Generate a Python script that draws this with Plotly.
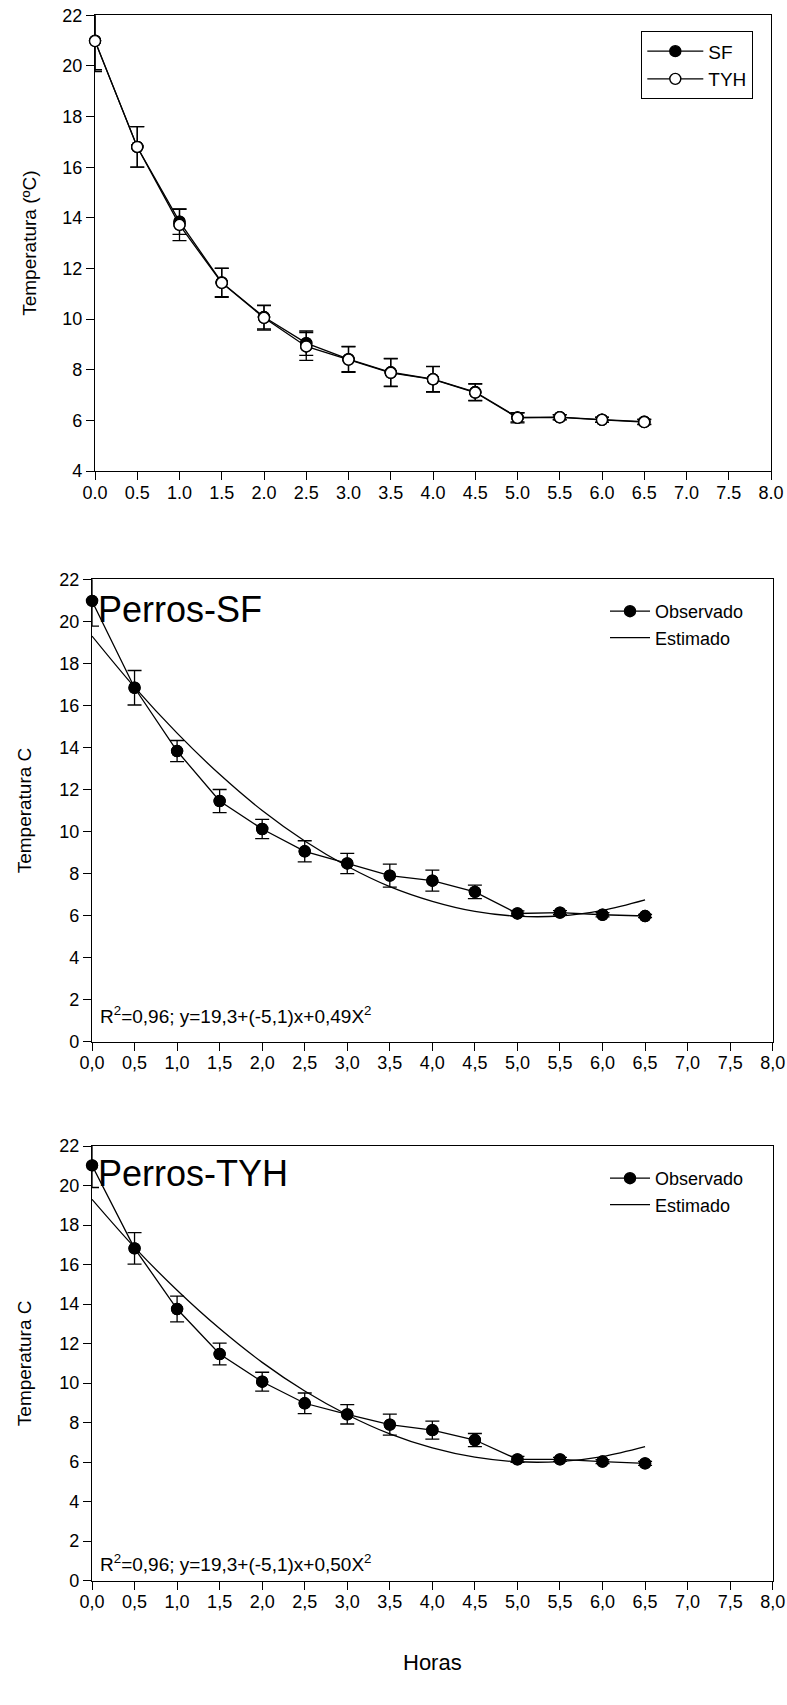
import plotly.graph_objects as go

# ---------------- data ----------------
horas = [0.0, 0.5, 1.0, 1.5, 2.0, 2.5, 3.0, 3.5, 4.0, 4.5, 5.0, 5.5, 6.0, 6.5]

# Panel 1: SF vs TYH
sf_mean = [21.0, 16.8, 13.85, 11.45, 10.08, 9.05, 8.42, 7.9, 7.63, 7.12, 6.12, 6.13, 6.03, 5.95]
sf_err = [1.15, 0.8, 0.5, 0.56, 0.47, 0.48, 0.5, 0.55, 0.5, 0.33, 0.18, 0.1, 0.1, 0.1]
tyh_mean = [20.98, 16.8, 13.72, 11.43, 10.05, 8.92, 8.4, 7.88, 7.62, 7.1, 6.1, 6.12, 6.02, 5.93]
tyh_err = [1.2, 0.8, 0.62, 0.57, 0.48, 0.55, 0.5, 0.55, 0.5, 0.33, 0.2, 0.1, 0.1, 0.1]

# Panel 2: Perros-SF observed / estimated
obs_sf = [20.97, 16.84, 13.83, 11.45, 10.12, 9.06, 8.48, 7.9, 7.66, 7.13, 6.1, 6.14, 6.04, 5.98]
obs_sf_err = [1.2, 0.82, 0.5, 0.55, 0.46, 0.5, 0.48, 0.55, 0.5, 0.32, 0.12, 0.1, 0.1, 0.08]
est_sf = [19.3, 16.87, 14.68, 12.72, 11.0, 9.55, 8.35, 7.38, 6.68, 6.2, 5.97, 5.98, 6.25, 6.75]

# Panel 3: Perros-TYH observed / estimated
obs_tyh = [21.02, 16.82, 13.75, 11.47, 10.07, 8.98, 8.42, 7.9, 7.62, 7.12, 6.14, 6.14, 6.03, 5.94]
obs_tyh_err = [1.12, 0.8, 0.65, 0.55, 0.48, 0.52, 0.49, 0.53, 0.46, 0.33, 0.15, 0.1, 0.1, 0.1]
est_tyh = [19.3, 16.87, 14.7, 12.76, 11.05, 9.6, 8.4, 7.43, 6.72, 6.25, 6.02, 6.03, 6.28, 6.78]

x_ticks = [0, 0.5, 1, 1.5, 2, 2.5, 3, 3.5, 4, 4.5, 5, 5.5, 6, 6.5, 7, 7.5, 8]
x_ticklabels_dot = ["0.0", "0.5", "1.0", "1.5", "2.0", "2.5", "3.0", "3.5", "4.0",
                    "4.5", "5.0", "5.5", "6.0", "6.5", "7.0", "7.5", "8.0"]
x_ticklabels_comma = ["0,0", "0,5", "1,0", "1,5", "2,0", "2,5", "3,0", "3,5", "4,0",
                      "4,5", "5,0", "5,5", "6,0", "6,5", "7,0", "7,5", "8,0"]
y_ticks_top = [4, 6, 8, 10, 12, 14, 16, 18, 20, 22]
y_ticks_bottom = [0, 2, 4, 6, 8, 10, 12, 14, 16, 18, 20, 22]

eq_sf = "R<sup>2</sup>=0,96; y=19,3+(-5,1)x+0,49X<sup>2</sup>"
eq_tyh = "R<sup>2</sup>=0,96; y=19,3+(-5,1)x+0,50X<sup>2</sup>"

# ---------------- style ----------------
FONT = "Liberation Sans, Arial, sans-serif"
W, H = 787, 1705
LW = 1.3
MS = 11
EXT = 10  # px of extra room for the marker layer


def px_x(p):
    return p / W


def px_y(p):
    return 1 - p / H


fig = go.Figure()


def add_obs(x, y, err, xa, ya, name, fill, legend, showlegend=True):
    err_cfg = dict(type="data", array=err, visible=True, color="black",
                   thickness=1.3, width=7)
    fig.add_trace(go.Scatter(
        x=x, y=y, mode="lines+markers", name=name, legend=legend,
        showlegend=showlegend, xaxis=xa, yaxis=ya,
        line=dict(color="black", width=LW),
        marker=dict(symbol="circle", size=MS, color=fill,
                    line=dict(color="black", width=1.4)),
        error_y=err_cfg, hoverinfo="x+y"))


def add_markers(x, y, xa, ya, fill):
    # markers on a slightly larger twin subplot so that points on the axis are whole
    fig.add_trace(go.Scatter(
        x=x, y=y, mode="markers", showlegend=False, xaxis=xa, yaxis=ya,
        marker=dict(symbol="circle", size=MS, color=fill,
                    line=dict(color="black", width=1.4)),
        hoverinfo="skip"))


# Panel 1
add_obs(horas, sf_mean, sf_err, "x", "y", "SF", "black", "legend")
add_obs(horas, tyh_mean, tyh_err, "x", "y", "TYH", "white", "legend")
add_markers(horas, sf_mean, "x4", "y4", "black")
add_markers(horas, tyh_mean, "x4", "y4", "white")

# Panel 2
add_obs(horas, obs_sf, obs_sf_err, "x2", "y2", "Observado", "black", "legend2")
fig.add_trace(go.Scatter(x=horas, y=est_sf, mode="lines", name="Estimado",
                         legend="legend2", xaxis="x2", yaxis="y2",
                         line=dict(color="black", width=LW, shape="spline")))
add_markers(horas, obs_sf, "x5", "y5", "black")

# Panel 3
add_obs(horas, obs_tyh, obs_tyh_err, "x3", "y3", "Observado", "black", "legend3")
fig.add_trace(go.Scatter(x=horas, y=est_tyh, mode="lines", name="Estimado",
                         legend="legend3", xaxis="x3", yaxis="y3",
                         line=dict(color="black", width=LW, shape="spline")))
add_markers(horas, obs_tyh, "x6", "y6", "black")

axis_common = dict(showline=True, linecolor="black", linewidth=LW, mirror=True,
                   ticks="outside", ticklen=8, tickwidth=LW, tickcolor="black",
                   showgrid=False, zeroline=False, automargin=False,
                   tickfont=dict(family=FONT, size=18, color="black"))
xaxis_common = dict(axis_common, ticklabelstandoff=-3)

# panel pixel boxes: (left, right, top, bottom)
box1 = (95, 771, 15.3, 471)
box2 = (92, 772.7, 579.3, 1041.7)
box3 = (92, 772.7, 1146, 1580.7)


def dom(box):
    l, r, t, b = box
    return [px_x(l), px_x(r)], [px_y(b), px_y(t)]


d1x, d1y = dom(box1)
d2x, d2y = dom(box2)
d3x, d3y = dom(box3)

ytitle_font = dict(family=FONT, size=19, color="black")
xtitle_font = dict(family=FONT, size=22, color="black")


def twin(box, xr, yr, ax, ay):
    l, r, t, b = box
    sx = (r - l) / (xr[1] - xr[0])
    sy = (b - t) / (yr[1] - yr[0])
    ebox = (l - EXT, r, t - EXT, b)
    dx, dy = dom(ebox)
    xa = dict(domain=dx, range=[xr[0] - EXT / sx, xr[1]], visible=False,
              showgrid=False, zeroline=False, automargin=False, anchor=ay)
    ya = dict(domain=dy, range=[yr[0], yr[1] + EXT / sy], visible=False,
              showgrid=False, zeroline=False, automargin=False, anchor=ax)
    return xa, ya


x4, y4 = twin(box1, [0, 8], [4, 22], "x4", "y4")
x5, y5 = twin(box2, [0, 8], [0, 22], "x5", "y5")
x6, y6 = twin(box3, [0, 8], [0, 22], "x6", "y6")

fig.update_layout(
    width=W, height=H, margin=dict(l=0, r=0, t=0, b=0, autoexpand=False),
    paper_bgcolor="white", plot_bgcolor="rgba(0,0,0,0)",
    font=dict(family=FONT, color="black"),
    xaxis=dict(xaxis_common, domain=d1x, range=[0, 8], tickvals=x_ticks,
               ticktext=x_ticklabels_dot, anchor="y"),
    yaxis=dict(axis_common, domain=d1y, range=[4, 22], tickvals=y_ticks_top,
               anchor="x", title=dict(text="Temperatura (ºC)", font=ytitle_font,
                                      standoff=20)),
    xaxis2=dict(xaxis_common, domain=d2x, range=[0, 8], tickvals=x_ticks,
                ticktext=x_ticklabels_comma, anchor="y2"),
    yaxis2=dict(axis_common, domain=d2y, range=[0, 22], tickvals=y_ticks_bottom,
                anchor="x2", title=dict(text="Temperatura C", font=ytitle_font,
                                        standoff=22)),
    xaxis3=dict(xaxis_common, domain=d3x, range=[0, 8], tickvals=x_ticks,
                ticktext=x_ticklabels_comma, anchor="y3",
                title=dict(text="Horas", font=xtitle_font, standoff=43)),
    yaxis3=dict(axis_common, domain=d3y, range=[0, 22], tickvals=y_ticks_bottom,
                anchor="x3", title=dict(text="Temperatura C", font=ytitle_font,
                                        standoff=22)),
    xaxis4=x4, yaxis4=y4, xaxis5=x5, yaxis5=y5, xaxis6=x6, yaxis6=y6,
    legend=dict(x=px_x(641), y=px_y(31), xanchor="left", yanchor="top",
                bgcolor="white", bordercolor="black", borderwidth=1.3,
                font=dict(family=FONT, size=19, color="black"),
                tracegroupgap=0, itemwidth=56),
    legend2=dict(x=px_x(605), y=px_y(593), xanchor="left", yanchor="top",
                 bgcolor="rgba(0,0,0,0)", borderwidth=0,
                 font=dict(family=FONT, size=18, color="black"),
                 tracegroupgap=0, itemwidth=40),
    legend3=dict(x=px_x(605), y=px_y(1160), xanchor="left", yanchor="top",
                 bgcolor="rgba(0,0,0,0)", borderwidth=0,
                 font=dict(family=FONT, size=18, color="black"),
                 tracegroupgap=0, itemwidth=40),
    annotations=[
        dict(text="Perros-SF", xref="paper", yref="paper", x=px_x(96), y=px_y(609),
             xanchor="left", yanchor="middle", showarrow=False,
             font=dict(family=FONT, size=36, color="black")),
        dict(text=eq_sf, xref="paper", yref="paper", x=px_x(98), y=px_y(1015),
             xanchor="left", yanchor="middle", showarrow=False,
             font=dict(family=FONT, size=19, color="black")),
        dict(text="Perros-TYH", xref="paper", yref="paper", x=px_x(96), y=px_y(1173),
             xanchor="left", yanchor="middle", showarrow=False,
             font=dict(family=FONT, size=36, color="black")),
        dict(text=eq_tyh, xref="paper", yref="paper", x=px_x(98), y=px_y(1563),
             xanchor="left", yanchor="middle", showarrow=False,
             font=dict(family=FONT, size=19, color="black")),
    ],
)

fig.write_html("out.html", config={"displayModeBar": False},
               post_script="document.body.style.margin='0';document.body.style.overflow='hidden';")
